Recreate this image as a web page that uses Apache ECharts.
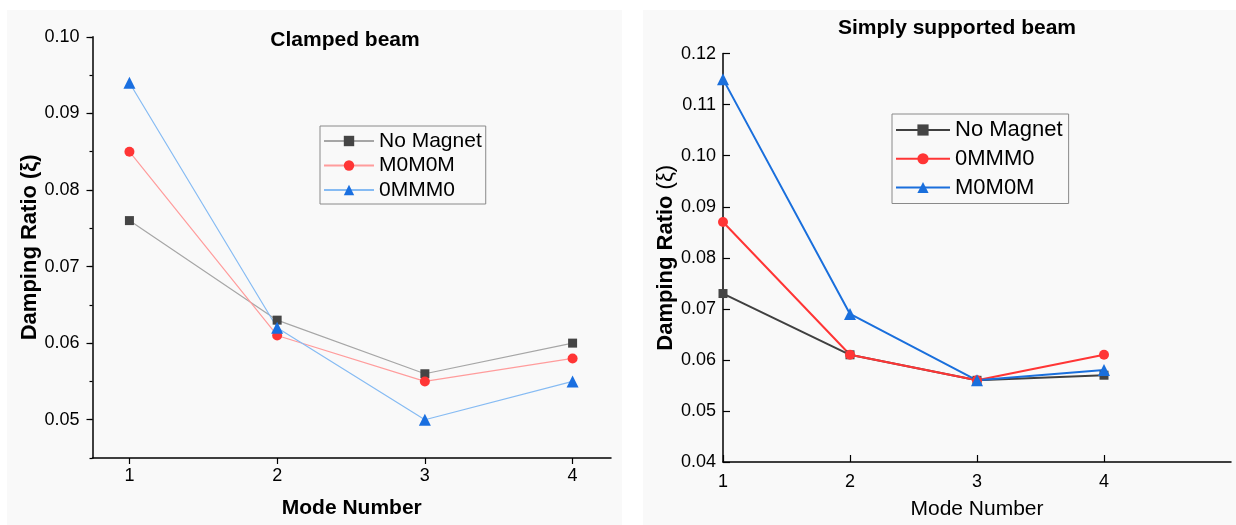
<!DOCTYPE html>
<html>
<head>
<meta charset="utf-8">
<script src="https://cdn.jsdelivr.net/npm/echarts@6/dist/echarts.min.js"></script>
<style>
html,body{margin:0;padding:0;background:#ffffff;}
#chart{width:1236px;height:525px;}
</style>
</head>
<body>
<div id="chart"></div>
<script>
// ---- data ----
const modes = [1, 2, 3, 4];
const modeTicks = [1, 2, 3, 4];

// Clamped beam (left)
const clampedTitle = 'Clamped beam';
const clampedNames = ['No Magnet', 'M0M0M', '0MMM0'];
const clampedNoMagnet = [0.076, 0.063, 0.056, 0.060];
const clampedM0M0M = [0.085, 0.061, 0.055, 0.058];
const clamped0MMM0 = [0.094, 0.062, 0.050, 0.055];
const clampedYTicks = [0.05, 0.06, 0.07, 0.08, 0.09, 0.10];

// Simply supported beam (right)
const simplyTitle = 'Simply supported beam';
const simplyNames = ['No Magnet', '0MMM0', 'M0M0M'];
const simplyNoMagnet = [0.073, 0.061, 0.056, 0.057];
const simply0MMM0 = [0.087, 0.061, 0.056, 0.061];
const simplyM0M0M = [0.115, 0.069, 0.056, 0.058];
const simplyYTicks = [0.04, 0.05, 0.06, 0.07, 0.08, 0.09, 0.10, 0.11, 0.12];

const xName = 'Mode Number';
const yName = 'Damping Ratio (ξ)';

function pairs(vals) { return modes.map((m, i) => [m, vals[i]]); }

const FONT = '"Liberation Sans", Arial, sans-serif';

const chart = echarts.init(document.getElementById('chart'), null, {renderer: 'canvas'});

const L = 'L|', R = 'R|';

const option = {
  backgroundColor: '#ffffff',
  animation: false,
  graphic: [
    {type: 'rect', left: 7, top: 10, shape: {width: 615, height: 515}, style: {fill: '#f9f9f9'}, z: -10, silent: true},
    {type: 'rect', left: 643, top: 10, shape: {width: 593, height: 515}, style: {fill: '#f9f9f9'}, z: -10, silent: true}
  ],
  title: [
    {text: clampedTitle, left: 345, top: 30, textAlign: 'center', padding: 0,
     textStyle: {fontFamily: FONT, fontWeight: 'bold', fontSize: 21, color: '#000'}},
    {text: simplyTitle, left: 957, top: 18, textAlign: 'center', padding: 0,
     textStyle: {fontFamily: FONT, fontWeight: 'bold', fontSize: 21, color: '#000'}}
  ],
  legend: [
    {
      data: clampedNames.map(n => L + n),
      formatter: n => n.split('|')[1],
      orient: 'vertical', left: 320, top: 126,
      padding: [4, 4, 3, 3], itemGap: 2.5,
      itemWidth: 50, itemHeight: 13,
      borderColor: '#8a8a8a', borderWidth: 1,
      textStyle: {fontFamily: FONT, fontSize: 21, color: '#000', lineHeight: 22}
    },
    {
      data: simplyNames.map(n => R + n),
      formatter: n => n.split('|')[1],
      orient: 'vertical', left: 892, top: 114,
      padding: [4, 6, 4, 3], itemGap: 4.75,
      itemWidth: 54, itemHeight: 14,
      borderColor: '#8a8a8a', borderWidth: 1,
      textStyle: {fontFamily: FONT, fontSize: 22, color: '#000', lineHeight: 24}
    }
  ],
  grid: [
    {left: 92.5, top: 36.8, width: 518.5, height: 421.2, containLabel: false},
    {left: 723, top: 53.6, width: 508, height: 411.1, containLabel: false}
  ],
  xAxis: [
    {
      gridIndex: 0, type: 'value', min: 0.75, max: 4.26,
      name: xName, nameLocation: 'middle', nameGap: 40,
      nameTextStyle: {fontFamily: FONT, fontWeight: 'bold', fontSize: 21, color: '#000'},
      axisLine: {show: true, onZero: false, lineStyle: {color: '#000', width: 1.5}},
      axisTick: {show: true, inside: false, length: 6, customValues: modeTicks, lineStyle: {color: '#000', width: 1.2}},
      axisLabel: {customValues: modeTicks, margin: 9, fontFamily: FONT, fontSize: 18, color: '#000'},
      splitLine: {show: false}
    },
    {
      gridIndex: 1, type: 'value', min: 1, max: 5,
      name: xName, nameLocation: 'middle', nameGap: 37,
      nameTextStyle: {fontFamily: FONT, fontWeight: 'normal', fontSize: 21, color: '#000'},
      axisLine: {show: true, onZero: false, lineStyle: {color: '#000', width: 1.5}},
      axisTick: {show: true, inside: true, length: 7, customValues: modeTicks, lineStyle: {color: '#000', width: 1.2}},
      axisLabel: {customValues: modeTicks, margin: 11, fontFamily: FONT, fontSize: 18, color: '#000'},
      splitLine: {show: false}
    }
  ],
  yAxis: [
    {
      gridIndex: 0, type: 'value', min: 0.045, max: 0.10,
      name: yName, nameLocation: 'middle', nameGap: 52,
      nameTextStyle: {fontFamily: FONT, fontWeight: 'bold', fontSize: 22, color: '#000'},
      axisLine: {show: true, onZero: false, lineStyle: {color: '#000', width: 1.5}},
      axisTick: {show: true, inside: false, length: 6, customValues: clampedYTicks, lineStyle: {color: '#000', width: 1.2}},
      axisLabel: {customValues: clampedYTicks, margin: 13, formatter: v => v.toFixed(2),
                  fontFamily: FONT, fontSize: 18, color: '#000'},
      splitLine: {show: false}
    },
    {
      gridIndex: 0, type: 'value', min: 0.045, max: 0.10, interval: 0.005, position: 'left',
      axisLine: {show: false},
      axisTick: {show: true, inside: false, length: 3, lineStyle: {color: '#000', width: 1.2}},
      axisLabel: {show: false},
      splitLine: {show: false}
    },
    {
      gridIndex: 1, type: 'value', min: 0.04, max: 0.12,
      name: '{b|Damping Ratio} {n|(ξ)}', nameLocation: 'middle', nameGap: 46,
      nameTextStyle: {fontFamily: FONT, fontSize: 22, color: '#000',
        rich: {b: {fontFamily: FONT, fontWeight: 'bold', fontSize: 22, color: '#000'},
               n: {fontFamily: FONT, fontWeight: 'normal', fontSize: 22, color: '#000'}}},
      axisLine: {show: true, onZero: false, lineStyle: {color: '#000', width: 1.5}},
      axisTick: {show: true, inside: true, length: 7, customValues: simplyYTicks, lineStyle: {color: '#000', width: 1.2}},
      axisLabel: {customValues: simplyYTicks, margin: 7, formatter: v => v.toFixed(2),
                  fontFamily: FONT, fontSize: 18, color: '#000'},
      splitLine: {show: false}
    }
  ],
  series: [
    {name: L + clampedNames[0], type: 'line', xAxisIndex: 0, yAxisIndex: 0, data: pairs(clampedNoMagnet),
     symbol: 'rect', symbolSize: 9, lineStyle: {color: '#a6a6a6', width: 1.2}, itemStyle: {color: '#454545'}},
    {name: L + clampedNames[1], type: 'line', xAxisIndex: 0, yAxisIndex: 0, data: pairs(clampedM0M0M),
     symbol: 'circle', symbolSize: 10, lineStyle: {color: '#ff9c9c', width: 1.2}, itemStyle: {color: '#ff3535'}},
    {name: L + clampedNames[2], type: 'line', xAxisIndex: 0, yAxisIndex: 0, data: pairs(clamped0MMM0),
     symbol: 'triangle', symbolSize: 12, lineStyle: {color: '#86bbf3', width: 1.2}, itemStyle: {color: '#1a6fe0'}},
    {name: R + simplyNames[0], type: 'line', xAxisIndex: 1, yAxisIndex: 2, data: pairs(simplyNoMagnet),
     symbol: 'rect', symbolSize: 9, lineStyle: {color: '#404040', width: 2}, itemStyle: {color: '#454545'}},
    {name: R + simplyNames[1], type: 'line', xAxisIndex: 1, yAxisIndex: 2, data: pairs(simply0MMM0),
     symbol: 'circle', symbolSize: 10, lineStyle: {color: '#ff3535', width: 2}, itemStyle: {color: '#ff3535'}},
    {name: R + simplyNames[2], type: 'line', xAxisIndex: 1, yAxisIndex: 2, data: pairs(simplyM0M0M),
     symbol: 'triangle', symbolSize: 12, lineStyle: {color: '#1a6fdc', width: 2}, itemStyle: {color: '#1a6fdc'}}
  ]
};

chart.setOption(option);
</script>
</body>
</html>
